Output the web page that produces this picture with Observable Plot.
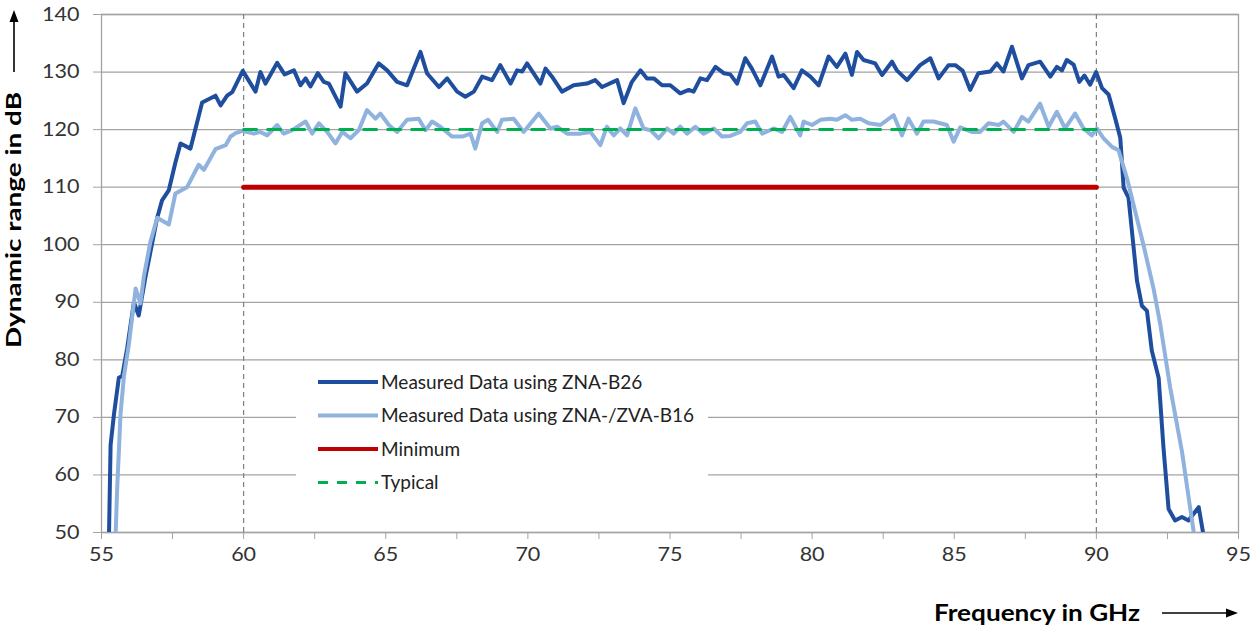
<!DOCTYPE html>
<html><head><meta charset="utf-8">
<script src="https://cdn.jsdelivr.net/npm/d3@7"></script>
<script src="https://cdn.jsdelivr.net/npm/@observablehq/plot@0.6"></script>
<style>
html,body{margin:0;padding:0;background:#fff;}
#wrap{position:relative;width:1252px;height:630px;overflow:hidden;}
#legend{position:absolute;left:296px;top:364px;width:412px;height:137px;background:#fff;}
</style></head><body><div id="wrap"><div id="chart"></div><div id="legend"></div></div>
<script>
// ---- data ----
const b26Freq = [55.26,55.32,55.44,55.61,55.73,55.90,56.14,56.31,56.55,56.72,56.96,57.13,57.37,57.60,57.78,58.13,58.54,59.01,59.19,59.42,59.60,59.97,60.42,60.59,60.77,61.18,61.44,61.77,62.00,62.18,62.35,62.61,62.82,63.00,63.41,63.58,63.99,64.34,64.75,65.05,65.40,65.75,66.22,66.45,66.87,67.16,67.51,67.80,68.10,68.39,68.74,69.03,69.39,69.62,69.80,69.97,70.44,70.62,70.85,71.20,71.61,72.08,72.37,72.61,73.14,73.37,73.66,73.96,74.19,74.43,74.72,75.01,75.36,75.66,75.83,76.07,76.30,76.60,76.89,77.12,77.36,77.65,77.88,78.18,78.59,78.82,79.00,79.35,79.64,79.94,80.23,80.58,80.87,81.17,81.40,81.58,81.81,82.22,82.46,82.81,82.98,83.34,83.80,84.16,84.45,84.80,85.04,85.30,85.56,85.85,86.27,86.50,86.73,87.03,87.38,87.61,88.02,88.38,88.61,88.79,88.96,89.20,89.40,89.58,89.78,89.99,90.20,90.43,90.66,90.84,90.96,91.13,91.25,91.43,91.60,91.78,91.95,92.19,92.36,92.54,92.77,93.01,93.24,93.60,93.77,93.85];
const b26Db   = [48.6,65.2,70.6,76.9,77.2,81.9,90.0,87.7,94.5,98.7,104.7,107.7,109.5,114.3,117.6,116.7,124.7,125.9,124.2,125.9,126.5,130.2,126.6,130.0,128.0,131.6,129.6,130.3,127.7,128.9,127.5,129.8,128.3,128.0,124.0,129.8,126.6,128.0,131.5,130.3,128.3,127.7,133.5,129.8,127.4,128.9,126.6,125.7,126.6,129.2,128.6,131.2,128.0,130.3,130.1,131.5,128.0,130.6,129.2,126.6,127.7,128.0,128.6,127.4,128.6,124.6,128.3,130.3,128.9,128.9,127.7,127.7,126.3,126.9,126.6,128.9,128.6,130.9,129.8,129.6,128.0,132.4,130.6,127.7,132.7,129.2,129.5,127.2,130.3,129.2,127.7,132.7,130.9,133.2,129.5,133.5,132.1,131.5,129.5,131.8,130.3,128.6,131.2,132.4,128.9,131.2,131.2,130.2,126.9,129.8,130.1,131.5,130.1,134.4,128.9,131.2,131.8,129.2,130.9,130.3,132.1,131.3,128.3,129.4,127.8,130.0,127.2,126.1,122.0,118.6,109.9,108.2,102.4,93.7,89.4,88.5,81.6,76.9,64.8,54.1,52.1,52.7,52.1,54.4,49.5,48.0];

const b16Freq = [55.49,55.55,55.67,55.79,55.96,56.20,56.37,56.49,56.72,56.96,57.37,57.60,58.01,58.42,58.60,59.01,59.37,59.54,59.72,59.95,60.36,60.59,60.83,61.18,61.41,61.71,62.18,62.41,62.65,62.94,63.23,63.47,63.76,64.05,64.34,64.64,64.81,65.11,65.40,65.75,66.16,66.40,66.63,66.92,67.33,67.69,67.98,68.15,68.39,68.60,68.92,69.09,69.50,69.85,70.38,70.79,71.03,71.38,71.85,72.20,72.55,72.78,73.02,73.25,73.49,73.78,74.07,74.31,74.60,74.90,75.13,75.36,75.60,75.89,76.18,76.54,76.83,77.12,77.47,77.71,78.00,78.24,78.65,78.94,79.23,79.58,79.70,80.00,80.29,80.64,80.87,81.17,81.40,81.69,81.99,82.40,82.87,83.16,83.39,83.69,83.92,84.27,84.74,84.98,85.21,85.62,85.91,86.20,86.56,86.73,87.09,87.38,87.61,88.02,88.32,88.61,88.90,89.25,89.55,89.84,90.02,90.25,90.55,90.78,91.08,91.31,91.66,92.01,92.25,92.60,93.01,93.42,93.46];
const b16Db   = [48.6,57.5,70.6,77.2,82.6,92.4,89.8,94.5,100.5,104.7,103.5,108.9,110.0,113.9,113.0,116.6,117.3,118.8,119.4,119.8,119.3,119.6,119.0,120.8,119.3,119.9,121.4,119.3,121.1,119.6,117.6,119.6,118.5,119.9,123.4,121.9,122.8,120.8,119.6,121.7,121.9,119.9,121.4,120.5,118.8,118.8,119.3,116.7,121.1,121.7,119.6,121.7,121.9,119.6,122.8,120.2,120.5,119.3,119.3,119.6,117.3,120.5,119.0,120.2,119.0,123.7,120.2,119.9,118.5,120.2,119.3,120.5,119.3,120.5,119.3,120.2,118.8,118.9,119.6,121.1,121.4,119.3,120.2,119.6,122.2,119.0,121.4,120.8,121.7,121.9,121.7,122.5,121.7,121.9,121.1,120.8,122.5,119.0,121.9,119.3,121.4,121.4,120.8,117.9,120.4,119.6,119.6,121.1,120.8,121.4,119.6,122.2,121.4,124.5,120.5,123.1,120.2,122.8,120.2,119.0,120.2,118.5,117.0,116.4,111.5,106.9,99.9,92.4,86.1,75.1,64.1,50.2,48.0];

const bandGHz = [60, 90];          // specified band edges
const minimumDb = 110;             // minimum spec
const typicalDb = 120;             // typical spec
const yTicks = [50, 60, 70, 80, 90, 100, 110, 120, 130, 140];
const xTicks = [55, 57.5, 60, 62.5, 65, 67.5, 70, 72.5, 75, 77.5, 80, 82.5, 85, 87.5, 90, 92.5, 95];
const xLabels = [55, 60, 65, 70, 75, 80, 85, 90, 95];
const seriesNames = ["Measured Data using ZNA-B26", "Measured Data using ZNA-/ZVA-B16", "Minimum", "Typical"];
const yTitle = "Dynamic range in dB";
const xTitle = "Frequency in GHz";

// ---- build tables ----
const b26 = b26Freq.map((f, i) => ({f, db: b26Db[i]}));
const b16 = b16Freq.map((f, i) => ({f, db: b16Db[i]}));
const minLine = bandGHz.map(f => ({f, db: minimumDb}));
const typLine = bandGHz.map(f => ({f, db: typicalDb}));

const C = {dark: "#1f4e9e", light: "#8fb3de", red: "#c00000", green: "#00b050", grid: "#a3a3a3"};

const plot = Plot.plot({
  width: 1252, height: 630,
  marginLeft: 101, marginRight: 14, marginTop: 14, marginBottom: 98,
  style: {fontFamily: "Lato, sans-serif", fontSize: "19px", color: "#333", background: "#fff", overflow: "visible"},
  x: {domain: [55, 95], label: null},
  y: {domain: [50, 140], label: null},
  marks: [
    Plot.ruleY(yTicks, {stroke: C.grid, strokeWidth: 1.3}),
    Plot.frame({stroke: C.grid, strokeWidth: 1.3}),
    Plot.ruleX(bandGHz, {stroke: "#7f7f7f", strokeWidth: 1.2, strokeDasharray: "5,4"}),
    Plot.line(b26, {x: "f", y: "db", stroke: C.dark, strokeWidth: 4, clip: true}),
    Plot.line(b16, {x: "f", y: "db", stroke: C.light, strokeWidth: 4, clip: true}),
    Plot.line(minLine, {x: "f", y: "db", stroke: C.red, strokeWidth: 5}),
    Plot.line(typLine, {x: "f", y: "db", stroke: C.green, strokeWidth: 3, strokeDasharray: "13,11"}),
    Plot.axisY(yTicks, {tickSize: 8, tickPadding: 14, stroke: C.grid, fill: "#333", label: null}),
    Plot.axisX(xTicks, {tickSize: 7, tickPadding: 8, stroke: C.grid, fill: "#333", label: null,
      tickFormat: d => xLabels.includes(d) ? String(d) : ""})
  ]
});
document.getElementById("chart").appendChild(plot);

const svg = d3.select(plot);
// widen tick labels to match the reference proportions
svg.selectAll("g[aria-label='y-axis tick label'] text, g[aria-label='x-axis tick label'] text").each(function() {
  const t = d3.select(this).text();
  if (t) d3.select(this).attr("textLength", 12.5 * t.length).attr("lengthAdjust", "spacingAndGlyphs");
});

// axis titles + arrows
svg.append("text").text(yTitle)
  .attr("transform", "translate(21,220) rotate(-90)")
  .attr("text-anchor", "middle").attr("font-weight", "bold").attr("font-size", 21)
  .attr("fill", "#000").attr("textLength", 256).attr("lengthAdjust", "spacingAndGlyphs");
svg.append("line").attr("x1", 14).attr("x2", 14).attr("y1", 72).attr("y2", 20).attr("stroke", "#000").attr("stroke-width", 1.6);
svg.append("path").attr("d", "M14,10 L9.5,22 L18.5,22 Z").attr("fill", "#000");

svg.append("text").text(xTitle)
  .attr("x", 934).attr("y", 621).attr("text-anchor", "start").attr("font-weight", "bold").attr("font-size", 23)
  .attr("fill", "#000").attr("textLength", 206).attr("lengthAdjust", "spacingAndGlyphs");
svg.append("line").attr("x1", 1162).attr("x2", 1228).attr("y1", 613).attr("y2", 613).attr("stroke", "#000").attr("stroke-width", 1.6);
svg.append("path").attr("d", "M1238,613 L1226,608.5 L1226,617.5 Z").attr("fill", "#000");

// legend
const legendItems = [
  {name: seriesNames[0], color: C.dark, w: 4, dash: null},
  {name: seriesNames[1], color: C.light, w: 4, dash: null},
  {name: seriesNames[2], color: C.red, w: 4, dash: null},
  {name: seriesNames[3], color: C.green, w: 3, dash: "10,9"}
];
const lg = d3.select("#legend").append("svg").attr("width", 412).attr("height", 137)
  .style("font-family", "Lato, sans-serif").style("font-size", "19px");
const row = lg.selectAll("g").data(legendItems).join("g")
  .attr("transform", (d, i) => `translate(0,${18 + i * 33.5})`);
row.append("line").attr("x1", 22).attr("x2", 82).attr("y1", 0).attr("y2", 0)
  .attr("stroke", d => d.color).attr("stroke-width", d => d.w).attr("stroke-dasharray", d => d.dash);
row.append("text").text(d => d.name).attr("x", 85).attr("y", 0).attr("dy", "0.35em").attr("fill", "#222");
</script></body></html>
